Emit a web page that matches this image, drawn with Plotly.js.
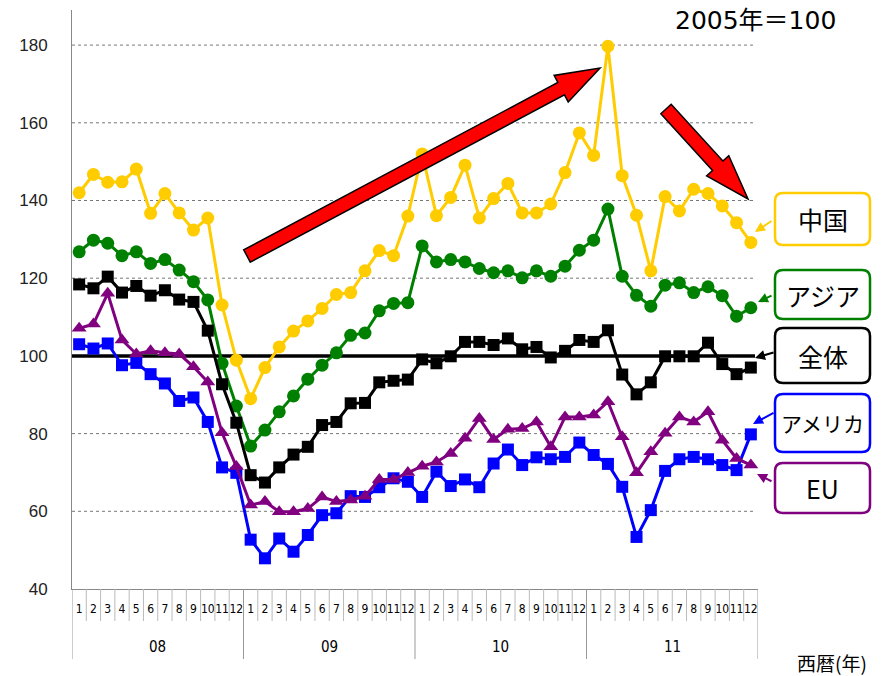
<!DOCTYPE html>
<html><head><meta charset="utf-8">
<script src="https://cdn.plot.ly/plotly-3.0.1.min.js"></script>
<style>html,body{margin:0;padding:0;background:#fff}</style>
</head><body><div id="chart" style="width:887px;height:676px"></div>
<script>
const years = ['08','09','10','11'];
const months = ['1','2','3','4','5','6','7','8','9','10','11','12'];
const seriesNames = ['中国','アジア','全体','アメリカ','EU'];
const china = [142.0,146.7,144.7,144.8,148.1,136.7,141.8,136.8,132.4,135.5,113.1,98.9,
  89.0,97.0,102.3,106.4,109.0,112.2,115.8,116.3,121.9,127.1,125.8,136.0,
  152.0,136.1,140.8,149.1,135.5,140.5,144.4,136.8,136.8,139.1,147.2,157.4,
  151.6,179.7,146.4,136.2,121.9,141.0,137.3,142.9,141.8,138.6,134.3,129.2];
const asia = [126.8,129.8,129.0,125.8,126.8,123.8,124.8,122.1,119.1,114.4,98.1,87.1,
  76.8,80.9,85.6,89.7,94.0,97.6,100.8,105.3,105.9,111.6,113.5,113.7,
  128.3,124.2,124.8,124.2,122.5,121.4,121.9,120.1,121.9,120.5,123.1,127.2,
  129.8,137.8,120.5,115.6,112.8,118.2,118.8,116.3,117.8,115.5,110.2,112.4];
const total = [118.4,117.4,120.4,116.3,118.0,115.5,116.9,114.5,113.9,106.5,92.7,82.8,
  69.3,67.4,71.3,74.6,76.6,82.2,83.0,87.8,87.9,93.2,93.6,93.9,
  99.1,98.1,99.9,103.6,103.6,102.8,104.5,101.7,102.3,99.6,101.3,104.1,
  103.6,106.6,95.2,90.1,93.2,99.9,99.9,99.9,103.4,97.9,95.3,97.0];
const america = [103.0,101.9,103.2,97.6,98.2,95.3,92.9,88.4,89.3,83.0,71.3,69.9,
  52.7,47.9,53.0,49.6,53.9,59.0,59.5,63.9,63.7,66.2,68.5,67.6,
  63.7,70.2,66.5,68.2,66.2,72.3,75.9,71.9,73.9,73.4,74.0,77.7,
  74.5,72.2,66.3,53.4,60.3,70.4,73.4,74.0,73.4,71.9,70.6,79.8];
const eu = [107.1,108.2,116.1,104.1,100.5,101.3,100.8,100.5,97.2,93.3,80.2,71.5,
  61.6,62.5,59.9,59.9,60.7,63.7,62.5,62.9,63.9,68.2,68.2,70.0,
  71.6,72.7,74.9,78.8,83.9,78.5,81.1,81.3,83.0,76.6,84.3,84.3,
  84.8,88.2,79.2,69.9,75.3,80.1,84.3,83.0,85.6,78.3,73.6,71.9];
const BASE = 100;
const yTicks = [40,60,80,100,120,140,160,180];

// x positions: one slot per (year, month)
const xIdx = [], xLabels = [];
years.forEach((y,yi) => months.forEach((m,mi) => { xIdx.push(yi*months.length+mi+1); xLabels.push(m); }));
const N = xIdx.length;

const styles = [
  {color:'#FFCC00', symbol:'circle', size:13},
  {color:'#008000', symbol:'circle', size:13},
  {color:'#000000', symbol:'square', size:12},
  {color:'#0000FF', symbol:'square', size:12},
  {color:'#800080', symbol:'triangle-up', size:13}
];
const values = [china, asia, total, america, eu];
const traces = values.map((v,i) => ({
  type:'scatter', mode:'lines+markers', x:xIdx, y:v, name:seriesNames[i],
  line:{color:styles[i].color, width:3},
  marker:{color:styles[i].color, symbol:styles[i].symbol, size:styles[i].size},
  cliponaxis:false
}));

// pixel -> paper helpers (plot area: x 72..758, y 10..589)
const L=72, R=758, T=10, B=589;
const px = x => (x-L)/(R-L);
const py = y => (B-y)/(B-T);

function arrowPath(x0,y0,x1,y1,w,h,len){
  const dx=x1-x0, dy=y1-y0, d=Math.hypot(dx,dy);
  const ux=dx/d, uy=dy/d, nx=-uy, ny=ux;
  const bx=x1-ux*len, by=y1-uy*len;
  const pts=[[x0+nx*w,y0+ny*w],[bx+nx*w,by+ny*w],[bx+nx*h,by+ny*h],[x1,y1],
             [bx-nx*h,by-ny*h],[bx-nx*w,by-ny*w],[x0-nx*w,y0-ny*w]];
  return 'M'+pts.map(p=>px(p[0]).toFixed(5)+','+py(p[1]).toFixed(5)).join(' L')+' Z';
}
function roundRect(x0,y0,x1,y1,r){
  const P=(x,y)=>px(x).toFixed(5)+','+py(y).toFixed(5);
  return 'M'+P(x0+r,y0)+' L'+P(x1-r,y0)+' Q'+P(x1,y0)+' '+P(x1,y0+r)+
    ' L'+P(x1,y1-r)+' Q'+P(x1,y1)+' '+P(x1-r,y1)+
    ' L'+P(x0+r,y1)+' Q'+P(x0,y1)+' '+P(x0,y1-r)+
    ' L'+P(x0,y0+r)+' Q'+P(x0,y0)+' '+P(x0+r,y0)+' Z';
}

const shapes = [];
// dotted horizontal gridlines (except baseline and bottom axis)
yTicks.filter(v => v !== BASE && v !== yTicks[0]).forEach(v => shapes.push({
  type:'line', xref:'paper', yref:'y', x0:0, x1:px(755), y0:v, y1:v,
  line:{color:'#777', width:1, dash:'dot'}, layer:'below'}));
shapes.push({type:'line', xref:'paper', yref:'y', x0:0, x1:px(755), y0:BASE, y1:BASE,
   line:{color:'#000', width:3.5}, layer:'below'});
shapes.push({type:'path', xref:'paper', yref:'paper', path:arrowPath(247,256,600,68,7,15,44),
   fillcolor:'#FF0000', line:{color:'#000', width:1.5}});
shapes.push({type:'path', xref:'paper', yref:'paper', path:arrowPath(666,109,748,199,7,15,45),
   fillcolor:'#FF0000', line:{color:'#000', width:1.5}});
// month / year separators under the axis
for (let k=0; k<=N; k++) {
  const isYear = (k % months.length) === 0;
  shapes.push({type:'line', xref:'x', yref:'paper', x0:k+0.5, x1:k+0.5,
    y0:0, y1:py(isYear ? 659 : 621), line:{color:isYear?'#999':'#bbb', width:1}});
}
const annotations = [];
years.forEach((y,yi) => annotations.push({xref:'x', yref:'paper',
  x:yi*months.length+(months.length+1)/2, y:py(647), text:y, showarrow:false,
  xanchor:'center', yanchor:'middle',
  font:{family:'Liberation Sans Narrow, DejaVu Sans Condensed, Liberation Sans', size:15, color:'#000'}}));

const boxes = [
  {y0:193, y1:245}, {y0:270, y1:319}, {y0:328, y1:383}, {y0:394, y1:452}, {y0:463, y1:513}
];
const labelSizes = [25,25,25,21,25];
const tails = [[773,220],[773,295],[775,352],[775,412],[773,482]];
const tips = [[755,232],[758,302],[755,358],[753,424],[757,474]];
boxes.forEach((b,i) => {
  shapes.push({type:'path', xref:'paper', yref:'paper', path:roundRect(775,b.y0,870,b.y1,8),
    fillcolor:'#fff', line:{color:styles[i].color, width:2.5}});
  annotations.push({xref:'paper', yref:'paper', x:px(822.5), y:py((b.y0+b.y1)/2),
    xanchor:'center', yanchor:'middle',
    text:seriesNames[i], showarrow:false,
    font:{family:'Noto Sans CJK JP', size:labelSizes[i], color:'#000'}});
  annotations.push({xref:'paper', yref:'paper', x:px(tips[i][0]), y:py(tips[i][1]),
    ax:tails[i][0]-tips[i][0], ay:tails[i][1]-tips[i][1], text:'', showarrow:true,
    arrowcolor:styles[i].color, arrowwidth:2, arrowhead:2, arrowsize:1});
});
annotations.push({xref:'paper', yref:'paper', x:px(755), y:py(20), text:'2005年＝100',
  xanchor:'center', yanchor:'middle',
  showarrow:false, font:{family:'DejaVu Sans, Noto Sans CJK JP', size:25, color:'#000'}});
annotations.push({xref:'paper', yref:'paper', x:px(832), y:py(662), text:'西暦(年)',
  xanchor:'center', yanchor:'middle',
  showarrow:false, font:{family:'Noto Sans CJK JP', size:19, color:'#000'}});

const layout = {
  width:887, height:676,
  margin:{l:L, r:887-R, t:T, b:676-B},
  paper_bgcolor:'#fff', plot_bgcolor:'#fff',
  showlegend:false,
  xaxis:{range:[0.5, N+0.5], tickvals:xIdx, ticktext:xLabels, tickangle:0,
    showgrid:false, showline:true, linecolor:'#888', linewidth:1, ticks:'', zeroline:false,
    ticklabelstandoff:9,
    tickfont:{family:'Liberation Sans Narrow, DejaVu Sans Condensed, Liberation Sans', size:12, color:'#000'}},
  yaxis:{range:[40, 40+(B-T)/3.885], tickvals:yTicks, ticktext:yTicks.map(String),
    showgrid:false,
    showline:true, linecolor:'#888', linewidth:1, zeroline:false, ticks:'',
    ticklabelstandoff:20,
    tickfont:{family:'Liberation Sans, Arial', size:17, color:'#222'}},
  shapes:shapes, annotations:annotations
};
Plotly.newPlot('chart', traces, layout, {displayModeBar:false, staticPlot:true});
</script></body></html>
